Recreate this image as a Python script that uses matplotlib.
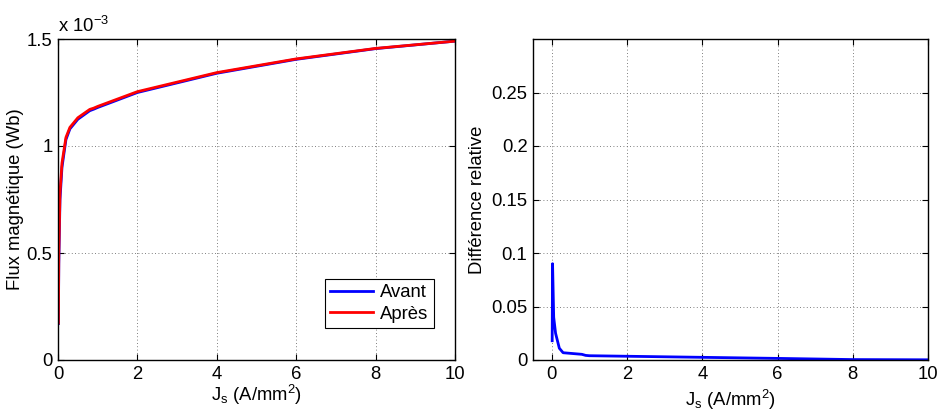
import matplotlib
matplotlib.use("Agg")
import matplotlib.pyplot as plt
import numpy as np

plt.rcParams['font.family'] = ['Liberation Sans', 'DejaVu Sans']
plt.rcParams['font.size'] = 13.3
plt.rcParams['mathtext.fontset'] = 'custom'
plt.rcParams['mathtext.rm'] = 'Liberation Sans'
plt.rcParams['mathtext.it'] = 'Liberation Sans'

# Current density (A/mm^2)
J = [0.01, 0.02, 0.05, 0.1, 0.2, 0.3, 0.5, 0.8, 0.9, 1, 2, 4, 6, 8, 10]
# Magnetic flux (x 1e-3 Wb)
flux_avant = [0.17, 0.45, 0.75, 0.90, 1.03, 1.08, 1.125, 1.165, 1.172, 1.18, 1.25, 1.34, 1.405, 1.455, 1.49]
flux_apres = [0.173, 0.49, 0.78, 0.92, 1.04, 1.087, 1.132, 1.171, 1.177, 1.185, 1.254, 1.343, 1.407, 1.456, 1.49]
# Relative difference
diff_rel = [0.018, 0.09, 0.04, 0.025, 0.011, 0.0068, 0.0062, 0.0053, 0.0043, 0.0040, 0.0035, 0.0025, 0.0015, 0.0004, 0.0002]

left_yticks = [0, 0.5, 1, 1.5]
left_yticklabels = ['0', '0.5', '1', '1.5']
right_yticks = [0, 0.05, 0.1, 0.15, 0.2, 0.25]
right_yticklabels = ['0', '0.05', '0.1', '0.15', '0.2', '0.25']
xticks = [0, 2, 4, 6, 8, 10]

fig = plt.figure(figsize=(9.41, 4.12), dpi=100)
ax1 = fig.add_axes([58/941, 52/412, 397/941, 321/412])
ax2 = fig.add_axes([533/941, 52/412, 395/941, 321/412])

def style(ax):
    ax.tick_params(direction='in', top=True, right=True, length=4, width=0.8, pad=4)
    ax.grid(True, linestyle=(0, (1, 3)), color='#555555', linewidth=0.6)
    for s in ax.spines.values():
        s.set_linewidth(1.0)

ax1.plot(J, flux_avant, color='#0000ff', lw=2, label='Avant')
ax1.plot(J, flux_apres, color='#ff0000', lw=2, label='Après')
ax1.set_xlim(0, 10)
ax1.set_ylim(0, 1.5)
ax1.set_xticks(xticks)
ax1.set_yticks(left_yticks)
ax1.set_yticklabels(left_yticklabels)
ax1.set_xlabel('J$_s$ (A/mm$^2$)', labelpad=0)
ax1.set_ylabel('Flux magnétique (Wb)', labelpad=2)
ax1.text(0.0, 1.01, 'x 10$^{-3}$', transform=ax1.transAxes, ha='left', va='bottom')
style(ax1)
leg = ax1.legend(loc='lower right', bbox_to_anchor=(0.97, 0.07), fancybox=False,
                 edgecolor='black', framealpha=1, handlelength=2.3, borderpad=0.3,
                 labelspacing=0.25, handletextpad=0.4)
leg.get_frame().set_linewidth(0.8)

ax2.plot(J, diff_rel, color='#0000ff', lw=2)
ax2.set_xlim(-0.5, 10)
ax2.set_ylim(0, 0.3)
ax2.set_xticks(xticks)
ax2.set_yticks(right_yticks)
ax2.set_yticklabels(right_yticklabels)
ax2.set_xlabel('J$_s$ (A/mm$^2$)', labelpad=4)
ax2.set_ylabel('Différence relative', labelpad=4)
style(ax2)

fig.savefig('out.png', dpi=100)
